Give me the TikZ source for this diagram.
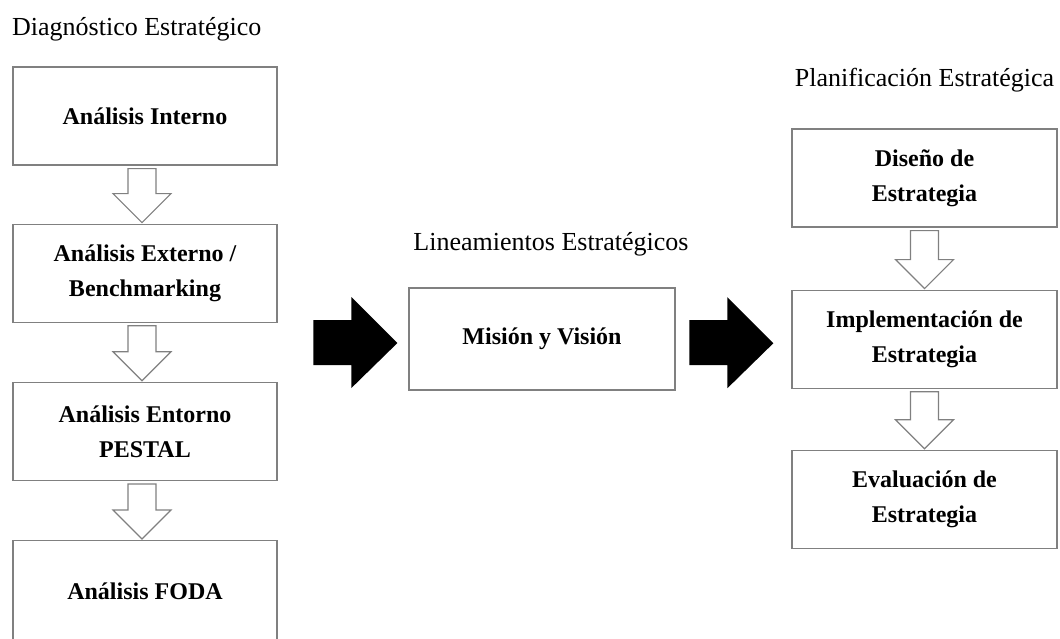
\documentclass[tikz,border=0pt]{standalone}
\usepackage{fontspec}
\setmainfont{Liberation Serif}
\usepackage{tikz}
\usetikzlibrary{positioning}
\usetikzlibrary{calc}
\tikzset{
	main box/.style={draw=gray,line width=1.2pt,fill=white,align=center,inner sep=0pt,
		font=\fontsize{24}{35}\selectfont\bfseries,minimum width=265pt,minimum height=98pt},
	head text/.style={font=\fontsize{26}{30}\selectfont,inner sep=0pt},
	hollow/.style={draw=gray,line width=1.2pt,fill=white,line join=miter},
	solid arrow/.style={fill=black}
}
\newcommand{\hollowarrow}[3]{%
	\coordinate (tip) at ($(#2.north)+(#3,-1)$);
	\draw [hollow] ($(#1.south)+(#3-14,3)$) -- ($(#1.south)+(#3+14,3)$) -- ($(tip)+(14,-29)$)
		-- ($(tip)+(29,-29)$) -- (tip) -- ($(tip)+(-29,-29)$) -- ($(tip)+(-14,-29)$) -- cycle;
}
\newcommand{\blockarrow}[1]{%
	\fill [solid arrow] (#1) -- ++(-46,-46) -- ++(0,23) -- ++(-38,0) -- ++(0,45) -- ++(38,0) -- ++(0,23) -- cycle;
}

\begin{document}
\begin{tikzpicture}[x=1pt,y=-1pt]
	\useasboundingbox (0,0) rectangle (1060,638);
	% Diagnostico
	\node [head text,anchor=base west] (diag) at (12,35) {Diagnóstico Estratégico};
	\node [main box,minimum width=264pt] (interno) at (145,116) {Análisis Interno};
	\node [main box,minimum width=264pt,below=58pt of interno] (externo) {Análisis Externo /\\Benchmarking};
	\node [main box,minimum width=264pt,below=59pt of externo] (entorno) {Análisis Entorno\\PESTAL};
	\node [main box,minimum width=264pt,minimum height=102pt,below=59pt of entorno] (foda) {Análisis FODA};
	\hollowarrow{interno}{externo}{-3}
	\hollowarrow{externo}{entorno}{-3}
	\hollowarrow{entorno}{foda}{-3}
	% Lineamientos
	\node [head text,anchor=base] (linea) at (551,250) {Lineamientos Estratégicos};
	\node [main box,minimum width=266pt,minimum height=102pt] (mision) at (542,339) {Misión y Visión};
	% Planificacion
	\node [head text,anchor=base] (plan) at (924.5,86) {Planificación Estratégica};
	\node [main box] (diseno) at (924.5,178) {Diseño de\\Estrategia};
	\node [main box,below=62pt of diseno] (implementa) {Implementación de\\Estrategia};
	\node [main box,below=61pt of implementa] (evalua) {Evaluación de\\Estrategia};
	\hollowarrow{diseno}{implementa}{0}
	\hollowarrow{implementa}{evalua}{0}
	\coordinate (in tip) at ($(mision.west)+(-11,4)$);
	\coordinate (out tip) at ($(implementa.west)+(-18,4)$);
	\blockarrow{in tip}
	\blockarrow{out tip}
\end{tikzpicture}
\end{document}
